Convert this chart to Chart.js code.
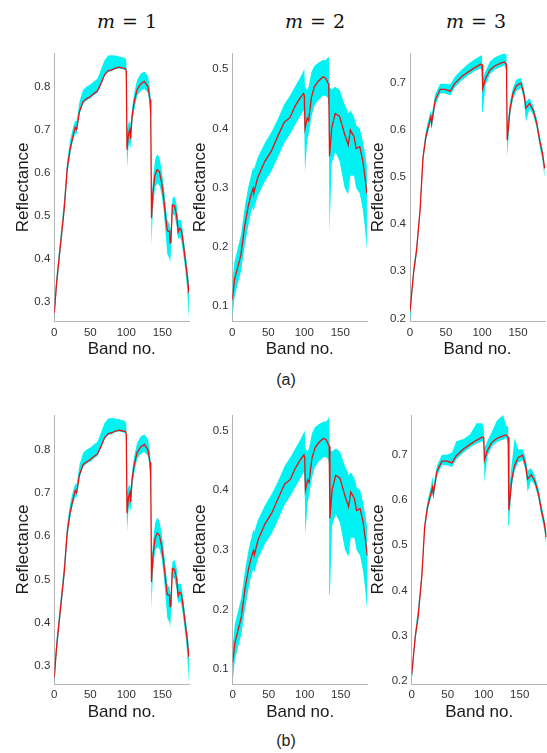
<!DOCTYPE html>
<html>
<head>
<meta charset="utf-8">
<script src="https://cdn.jsdelivr.net/npm/chart.js@4.4.0/dist/chart.umd.min.js"></script>
<style>
  body { margin: 0; background: #fff; width: 547px; height: 753px; position: relative; overflow: hidden; font-family: "Liberation Sans", Arial, sans-serif; }
  canvas { position: absolute; }
  .tit { position: absolute; width: 120px; text-align: center; font-family: "DejaVu Serif", serif; font-size: 19px; line-height: 24px; color: #111; }
  .tit span { margin: 0 7px; }
  .sub { position: absolute; width: 60px; text-align: center; font-size: 16px; line-height: 20px; color: #222; }
</style>
</head>
<body>
<div class="tit" style="left:67px;top:9px"><i>m</i><span>=</span>1</div>
<div class="tit" style="left:255px;top:9px"><i>m</i><span>=</span>2</div>
<div class="tit" style="left:416px;top:9px"><i>m</i><span>=</span>3</div>
<div class="sub" style="left:256px;top:370px">(a)</div>
<div class="sub" style="left:256px;top:731px">(b)</div>

<canvas id="a1"></canvas><canvas id="a2"></canvas><canvas id="a3"></canvas>
<canvas id="b1"></canvas><canvas id="b2"></canvas><canvas id="b3"></canvas>

<script>
// DADOS m = 1
const bandsM1 = [0, 3, 6, 10, 14, 18, 22, 26, 29, 31, 35, 40, 45, 50, 55, 60, 65, 70, 75, 80, 85, 90, 95, 99, 100, 101, 103, 105, 106, 108, 111, 115, 120, 125, 130, 133, 134, 135, 137, 140, 143, 146, 149, 152, 155, 157, 160, 161, 162, 164, 167, 170, 172, 174, 176, 178, 181, 184, 187];
const meanM1 = [0.273, 0.34, 0.39, 0.455, 0.52, 0.61, 0.655, 0.685, 0.705, 0.700, 0.742, 0.765, 0.772, 0.777, 0.784, 0.790, 0.808, 0.828, 0.837, 0.839, 0.843, 0.845, 0.843, 0.842, 0.835, 0.653, 0.69, 0.70, 0.678, 0.73, 0.765, 0.793, 0.806, 0.812, 0.80, 0.77, 0.73, 0.494, 0.555, 0.595, 0.607, 0.602, 0.578, 0.54, 0.49, 0.465, 0.463, 0.437, 0.44, 0.525, 0.523, 0.50, 0.462, 0.47, 0.468, 0.45, 0.41, 0.37, 0.32];
const upperM1 = [0.29, 0.36, 0.41, 0.475, 0.545, 0.63, 0.675, 0.705, 0.72, 0.72, 0.765, 0.792, 0.8, 0.805, 0.812, 0.818, 0.84, 0.862, 0.872, 0.873, 0.872, 0.87, 0.868, 0.865, 0.86, 0.70, 0.715, 0.72, 0.71, 0.75, 0.785, 0.815, 0.83, 0.835, 0.825, 0.795, 0.76, 0.53, 0.585, 0.63, 0.643, 0.635, 0.608, 0.57, 0.52, 0.49, 0.48, 0.47, 0.48, 0.54, 0.545, 0.525, 0.49, 0.49, 0.49, 0.47, 0.43, 0.39, 0.345];
const lowerM1 = [0.255, 0.325, 0.375, 0.44, 0.505, 0.595, 0.64, 0.675, 0.69, 0.69, 0.735, 0.76, 0.768, 0.772, 0.78, 0.785, 0.805, 0.825, 0.834, 0.836, 0.84, 0.842, 0.84, 0.838, 0.80, 0.61, 0.66, 0.67, 0.655, 0.71, 0.745, 0.778, 0.79, 0.795, 0.785, 0.75, 0.70, 0.43, 0.52, 0.565, 0.575, 0.57, 0.55, 0.51, 0.45, 0.41, 0.40, 0.39, 0.42, 0.505, 0.50, 0.475, 0.445, 0.45, 0.445, 0.425, 0.385, 0.34, 0.26];

// DADOS m = 2
const bandsM2 = [0, 3, 7, 12, 17, 22, 26, 29, 30, 35, 45, 54, 63, 72, 80, 87, 94, 99, 100, 101, 104, 106, 110, 114, 119, 126, 130, 133, 134, 135, 138, 143, 149, 156, 160, 161, 164, 169, 172, 177, 181, 184, 187];
const meanM2 = [0.111, 0.144, 0.163, 0.187, 0.234, 0.268, 0.288, 0.299, 0.291, 0.316, 0.344, 0.361, 0.386, 0.41, 0.418, 0.437, 0.451, 0.459, 0.455, 0.40, 0.417, 0.413, 0.453, 0.47, 0.479, 0.487, 0.484, 0.476, 0.474, 0.353, 0.40, 0.425, 0.42, 0.39, 0.376, 0.372, 0.397, 0.386, 0.366, 0.369, 0.347, 0.32, 0.29];
const upperM2 = [0.14, 0.175, 0.195, 0.22, 0.265, 0.30, 0.32, 0.335, 0.33, 0.35, 0.375, 0.393, 0.415, 0.44, 0.455, 0.47, 0.485, 0.497, 0.50, 0.47, 0.465, 0.47, 0.495, 0.505, 0.51, 0.515, 0.515, 0.52, 0.525, 0.47, 0.465, 0.47, 0.465, 0.44, 0.43, 0.425, 0.43, 0.42, 0.405, 0.40, 0.38, 0.36, 0.335];
const lowerM2 = [0.078, 0.115, 0.135, 0.158, 0.2, 0.235, 0.258, 0.268, 0.262, 0.285, 0.31, 0.327, 0.35, 0.375, 0.39, 0.405, 0.42, 0.43, 0.40, 0.325, 0.38, 0.39, 0.42, 0.438, 0.447, 0.455, 0.455, 0.45, 0.44, 0.225, 0.34, 0.36, 0.345, 0.3, 0.29, 0.29, 0.32, 0.32, 0.3, 0.29, 0.265, 0.235, 0.195];

// DADOS m = 3
const bandsM3 = [0, 5, 9, 14, 18, 22, 26, 29, 30, 35, 42, 49, 56, 62, 72, 81, 90, 98, 100, 101, 105, 111, 118, 127, 131, 134, 135, 139, 143, 148, 154, 158, 161, 166, 171, 176, 180, 184, 187];
const meanM3 = [0.214, 0.298, 0.343, 0.43, 0.54, 0.585, 0.61, 0.628, 0.614, 0.663, 0.686, 0.686, 0.682, 0.698, 0.713, 0.723, 0.732, 0.739, 0.738, 0.688, 0.709, 0.727, 0.736, 0.742, 0.744, 0.739, 0.578, 0.645, 0.677, 0.694, 0.699, 0.678, 0.646, 0.656, 0.642, 0.614, 0.578, 0.55, 0.518];
const upperM3 = [0.222, 0.31, 0.355, 0.44, 0.552, 0.598, 0.625, 0.642, 0.63, 0.676, 0.698, 0.698, 0.696, 0.712, 0.728, 0.74, 0.75, 0.757, 0.758, 0.71, 0.725, 0.745, 0.754, 0.76, 0.762, 0.76, 0.61, 0.66, 0.69, 0.707, 0.71, 0.69, 0.66, 0.667, 0.652, 0.625, 0.59, 0.56, 0.528];
const lowerM3 = [0.196, 0.288, 0.333, 0.42, 0.53, 0.575, 0.6, 0.615, 0.6, 0.652, 0.677, 0.677, 0.673, 0.69, 0.705, 0.716, 0.725, 0.73, 0.725, 0.638, 0.695, 0.718, 0.728, 0.734, 0.737, 0.725, 0.543, 0.63, 0.665, 0.683, 0.688, 0.667, 0.617, 0.645, 0.632, 0.603, 0.565, 0.535, 0.497];
// (b) m = 3 tem alguns espectros com picos acima
const upperM3b = [0.222, 0.31, 0.365, 0.44, 0.552, 0.598, 0.625, 0.652, 0.63, 0.676, 0.7, 0.7, 0.705, 0.73, 0.735, 0.745, 0.77, 0.77, 0.76, 0.715, 0.73, 0.75, 0.775, 0.788, 0.765, 0.762, 0.62, 0.68, 0.737, 0.712, 0.712, 0.695, 0.665, 0.67, 0.655, 0.627, 0.592, 0.562, 0.53];

const xTicks = [0, 50, 100, 150];

function pts(bands, vals) {
  return bands.map((b, i) => ({ x: b, y: vals[i] }));
}

// MONTA UM PAINEL
function painel(id, p) {
  const canvas = document.getElementById(id);
  canvas.width = p.W; canvas.height = p.H;
  canvas.style.left = p.L + 'px'; canvas.style.top = p.T + 'px';
  canvas.style.width = p.W + 'px'; canvas.style.height = p.H + 'px';

  new Chart(canvas.getContext('2d'), {
    type: 'line',
    data: {
      datasets: [
        // envelope ciano (superior preenche até o inferior)
        { data: pts(p.bands, p.upper), order: 2, borderColor: 'rgba(0,0,0,0)', borderWidth: 1, pointRadius: 0, backgroundColor: 'rgb(0,242,242)', fill: '+1' },
        { data: pts(p.bands, p.lower), order: 3, borderColor: 'rgba(0,0,0,0)', borderWidth: 1, pointRadius: 0, fill: false },
        // media em vermelho, por cima
        { data: pts(p.bands, p.mean), order: 0, borderColor: 'rgb(232,18,18)', borderWidth: 1.3, pointRadius: 0, fill: false }
      ]
    },
    options: {
      responsive: false,
      animation: false,
      devicePixelRatio: 1,
      layout: { padding: { top: p.top - p.T, right: p.L + p.W - p.right, left: 0, bottom: 0 } },
      plugins: { legend: { display: false }, tooltip: { enabled: false } },
      elements: { line: { tension: 0 } },
      scales: {
        x: {
          type: 'linear', min: 0, max: 187.5,
          afterBuildTicks: s => { s.ticks = xTicks.map(v => ({ value: v })); },
          afterFit: s => { s.height = p.T + p.H - p.bottom; },
          grid: { drawOnChartArea: false, drawTicks: false },
          border: { color: '#b4b4b4', width: 1 },
          ticks: { padding: 4, color: '#333', font: { family: 'Liberation Sans', size: 11.5 } },
          title: { display: true, text: 'Band no.', color: '#1a1a1a', padding: { top: 0, bottom: 0 }, font: { family: 'Liberation Sans', size: 17 } }
        },
        y: {
          min: p.ymin, max: p.ymax,
          afterFit: s => { s.width = p.left - p.L; },
          grid: { drawOnChartArea: false, drawTicks: false },
          border: { color: '#b4b4b4', width: 1 },
          ticks: { stepSize: 0.1, includeBounds: false, padding: 4, color: '#333', font: { family: 'Liberation Sans', size: 11.5 }, callback: v => v.toFixed(1) },
          title: { display: true, text: 'Reflectance', color: '#1a1a1a', padding: { top: p.tpad, bottom: 0 }, font: { family: 'Liberation Sans', size: 17 } }
        }
      }
    }
  });
}

document.addEventListener('DOMContentLoaded', function () {
  // LINHA (a)
  painel('a1', { L: 0, T: 40, W: 195, H: 320, left: 54.3, top: 53, right: 189.3, bottom: 321.7, ymin: 0.2535, ymax: 0.878, tpad: 12.8,
    bands: bandsM1, mean: meanM1, upper: upperM1, lower: lowerM1 });
  painel('a2', { L: 175, T: 40, W: 197, H: 320, left: 232.3, top: 53, right: 367.3, bottom: 321.7, ymin: 0.074, ymax: 0.527, tpad: 14.8,
    bands: bandsM2, mean: meanM2, upper: upperM2, lower: lowerM2 });
  painel('a3', { L: 355, T: 40, W: 192, H: 320, left: 410, top: 53, right: 545, bottom: 321.7, ymin: 0.193, ymax: 0.763, tpad: 13.1,
    bands: bandsM3, mean: meanM3, upper: upperM3, lower: lowerM3 });

  // LINHA (b)
  painel('b1', { L: 0, T: 400, W: 195, H: 323, left: 54.3, top: 415, right: 189.3, bottom: 684, ymin: 0.258, ymax: 0.880, tpad: 12.8,
    bands: bandsM1, mean: meanM1, upper: upperM1, lower: lowerM1 });
  painel('b2', { L: 175, T: 400, W: 197, H: 323, left: 232.7, top: 415, right: 367.7, bottom: 684, ymin: 0.075, ymax: 0.526, tpad: 14.8,
    bands: bandsM2, mean: meanM2, upper: upperM2, lower: lowerM2 });
  painel('b3', { L: 355, T: 400, W: 192, H: 323, left: 411.7, top: 415, right: 546.7, bottom: 684, ymin: 0.193, ymax: 0.788, tpad: 13.1,
    bands: bandsM3, mean: meanM3, upper: upperM3b, lower: lowerM3 });
});
</script>
</body>
</html>
